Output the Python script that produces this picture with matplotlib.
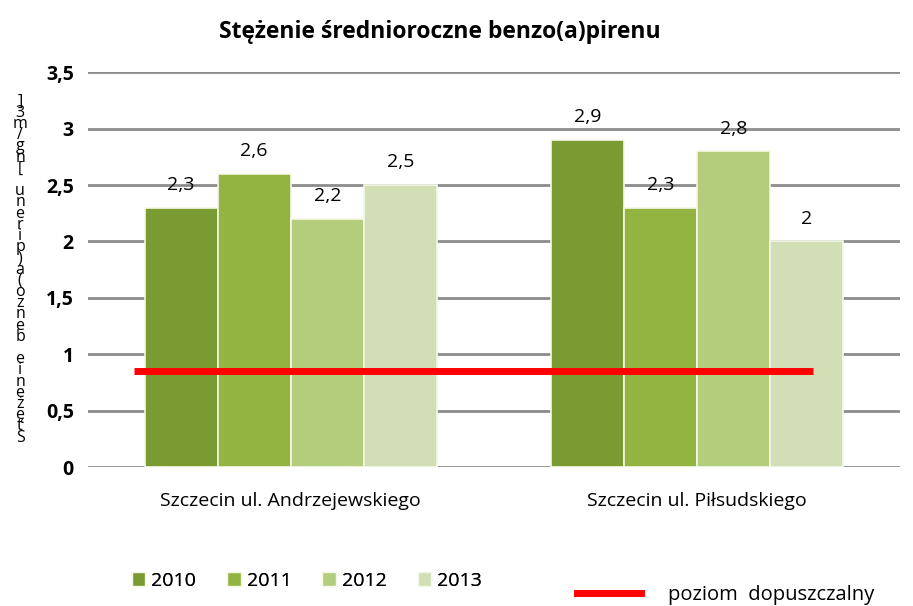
import matplotlib.pyplot as plt
import numpy as np
from matplotlib.lines import Line2D
from matplotlib.patches import Patch

# dane
stations = ['Szczecin ul. Andrzejewskiego', 'Szczecin ul. Piłsudskiego']
years = ['2010', '2011', '2012', '2013']
values = {
    '2010': [2.3, 2.9],
    '2011': [2.6, 2.3],
    '2012': [2.2, 2.8],
    '2013': [2.5, 2.0],
}
limit_value = 0.85
colors = ['#7a9a32', '#93b440', '#b3cd7c', '#d2dfb6']
y_label = 'Stężenie benzo(a)pirenu [ng/m3]'

plt.rcParams['font.family'] = ['Open Sans', 'DejaVu Sans']

fig = plt.figure(figsize=(9.13, 6.06), dpi=100)
ax = fig.add_axes([0.096, 0.229, 0.89, 0.652])

x = np.arange(len(stations))
width = 0.18
for i, year in enumerate(years):
    pos = x + (i - 1.5) * width
    bars = ax.bar(pos, values[year], width=width, color=colors[i],
                  edgecolor='#f4f8e6', linewidth=1.2, zorder=3, label=year)
    for b, v in zip(bars, values[year]):
        ax.text(b.get_x() + b.get_width() / 2, v + 0.12, f'{v:g}'.replace('.', ','),
                ha='center', va='bottom', fontsize=14, zorder=5)

# poziom dopuszczalny
ax.hlines(limit_value, -0.385, 1.285, colors='#ff0000', linewidth=5, zorder=4)

ax.set_xlim(-0.5, 1.5)
ax.set_ylim(0, 3.5)
ax.set_yticks(np.arange(0, 3.51, 0.5))
ax.set_yticklabels([f'{t:g}'.replace('.', ',') for t in np.arange(0, 3.51, 0.5)],
                   fontweight='bold', fontsize=14)
ax.set_xticks(x)
ax.set_xticklabels(stations, fontsize=14)
ax.tick_params(axis='y', length=0, pad=10)
ax.tick_params(axis='x', length=0, pad=18)
ax.yaxis.grid(True, color='#8c8c8c', linewidth=2, zorder=0)
for s in ax.spines.values():
    s.set_visible(False)

fig.text(0.482, 0.948, 'Stężenie średnioroczne benzo(a)pirenu', ha='center', va='center',
         fontsize=16.5, fontweight='bold')

# etykieta osi Y (znaki ułożone pionowo)
fig.text(0.022, 0.555, '\n'.join(reversed(y_label)), ha='center', va='center',
         fontsize=11.5, linespacing=0.6)

h_bars = [Patch(facecolor=c, edgecolor='#f4f8e6') for c in colors]
leg1 = fig.legend(h_bars, years, loc='center left', bbox_to_anchor=(0.125, 0.042),
                  ncol=4, frameon=False, fontsize=14, handlelength=0.7, handleheight=0.7,
                  handletextpad=0.3, columnspacing=1.6)
leg2 = fig.legend([Line2D([0], [0], color='#ff0000', linewidth=5)], ['poziom  dopuszczalny'],
                  loc='center left', bbox_to_anchor=(0.612, 0.018), frameon=False,
                  fontsize=14.5, handlelength=3.2, handletextpad=1.3)
fig.add_artist(leg1)

fig.savefig('out.png', dpi=100)
